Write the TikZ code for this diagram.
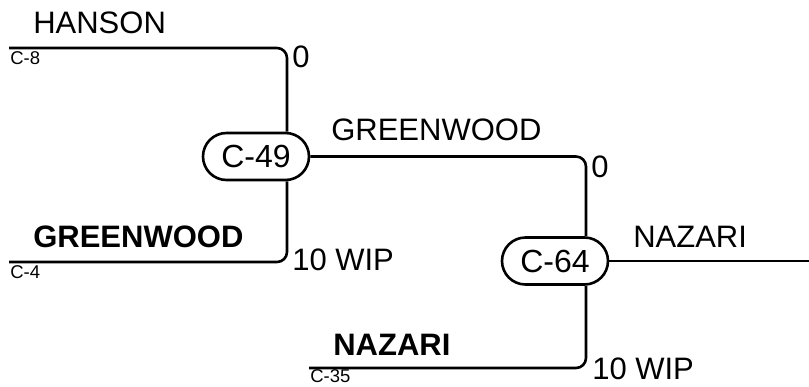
\documentclass[tikz,border=0pt]{standalone}
\usepackage{fontspec}
\setmainfont{Liberation Sans}
\usepackage{tikz}

\begin{document}
\begin{tikzpicture}
	[
	x=1pt, y=-1pt,
	line width=2.6pt,
	who/.style={inner sep=0pt, anchor=base west, font=\fontsize{31}{36}\selectfont},
	code/.style={inner sep=0pt, anchor=base west, font=\fontsize{18.5}{22}\selectfont},
	wip/.style={inner sep=0pt, anchor=base west, font=\fontsize{31}{36}\selectfont},
	cell/.style={draw, rounded corners=23.5pt, minimum width=106pt, minimum height=47pt, inner sep=0pt, font=\fontsize{32}{37}\selectfont},
	feed/.style={rounded corners=10pt},
	]
		\useasboundingbox (0,0) rectangle (809,386);
		
		% cells
		\node[cell] (c49) at 		( 256.0, 156.5 ) {C-49};
		\node[cell] (c64) at 		( 555.0, 261.0 ) {C-64};
		
		% feeding lines
		\coordinate (hanson) at 	(   9.0,  48.0 );
		\coordinate (green) at 		(   9.0, 262.0 );
		\coordinate (nazari) at 	( 309.0, 368.0 );
		\coordinate (out) at 		( 809.0, 261.0 );
		
		% texts
		\node[who] (hansonname) at 		(  32.0,  33.0 ) {HANSON};
		\node[code] (hansoncode) at 		(   9.0,  64.5 ) {C-8};
		\node[wip] (hansonwip) at 		( 291.0,  67.0 ) {0};
		\node[who] (greenname) at 		(  32.0, 247.0 ) {\bfseries GREENWOOD};
		\node[code] (greencode) at 		(   9.0, 278.5 ) {C-4};
		\node[wip] (greenwip) at 		( 291.0, 270.0 ) {10 WIP};
		\node[who] (midname) at 		( 330.0, 140.0 ) {GREENWOOD};
		\node[wip] (midwip) at 		( 590.0, 177.0 ) {0};
		\node[who] (nazariname) at 		( 332.0, 355.0 ) {\bfseries NAZARI};
		\node[code] (nazaricode) at 		( 309.0, 382.5 ) {C-35};
		\node[wip] (nazariwip) at 		( 591.0, 379.0 ) {10 WIP};
		\node[who] (outname) at 		( 632.0, 247.0 ) {NAZARI};
		
		\draw[feed] (hanson) -| ([xshift=31pt]c49.north);
		\draw[feed] (green) -| ([xshift=31pt]c49.south);
		\draw[feed] (c49.east) -| ([xshift=31pt]c64.north);
		\draw[feed] (nazari) -| ([xshift=31pt]c64.south);
		\draw (c64.east) -- (out);
		
	\end{tikzpicture}
\end{document}
